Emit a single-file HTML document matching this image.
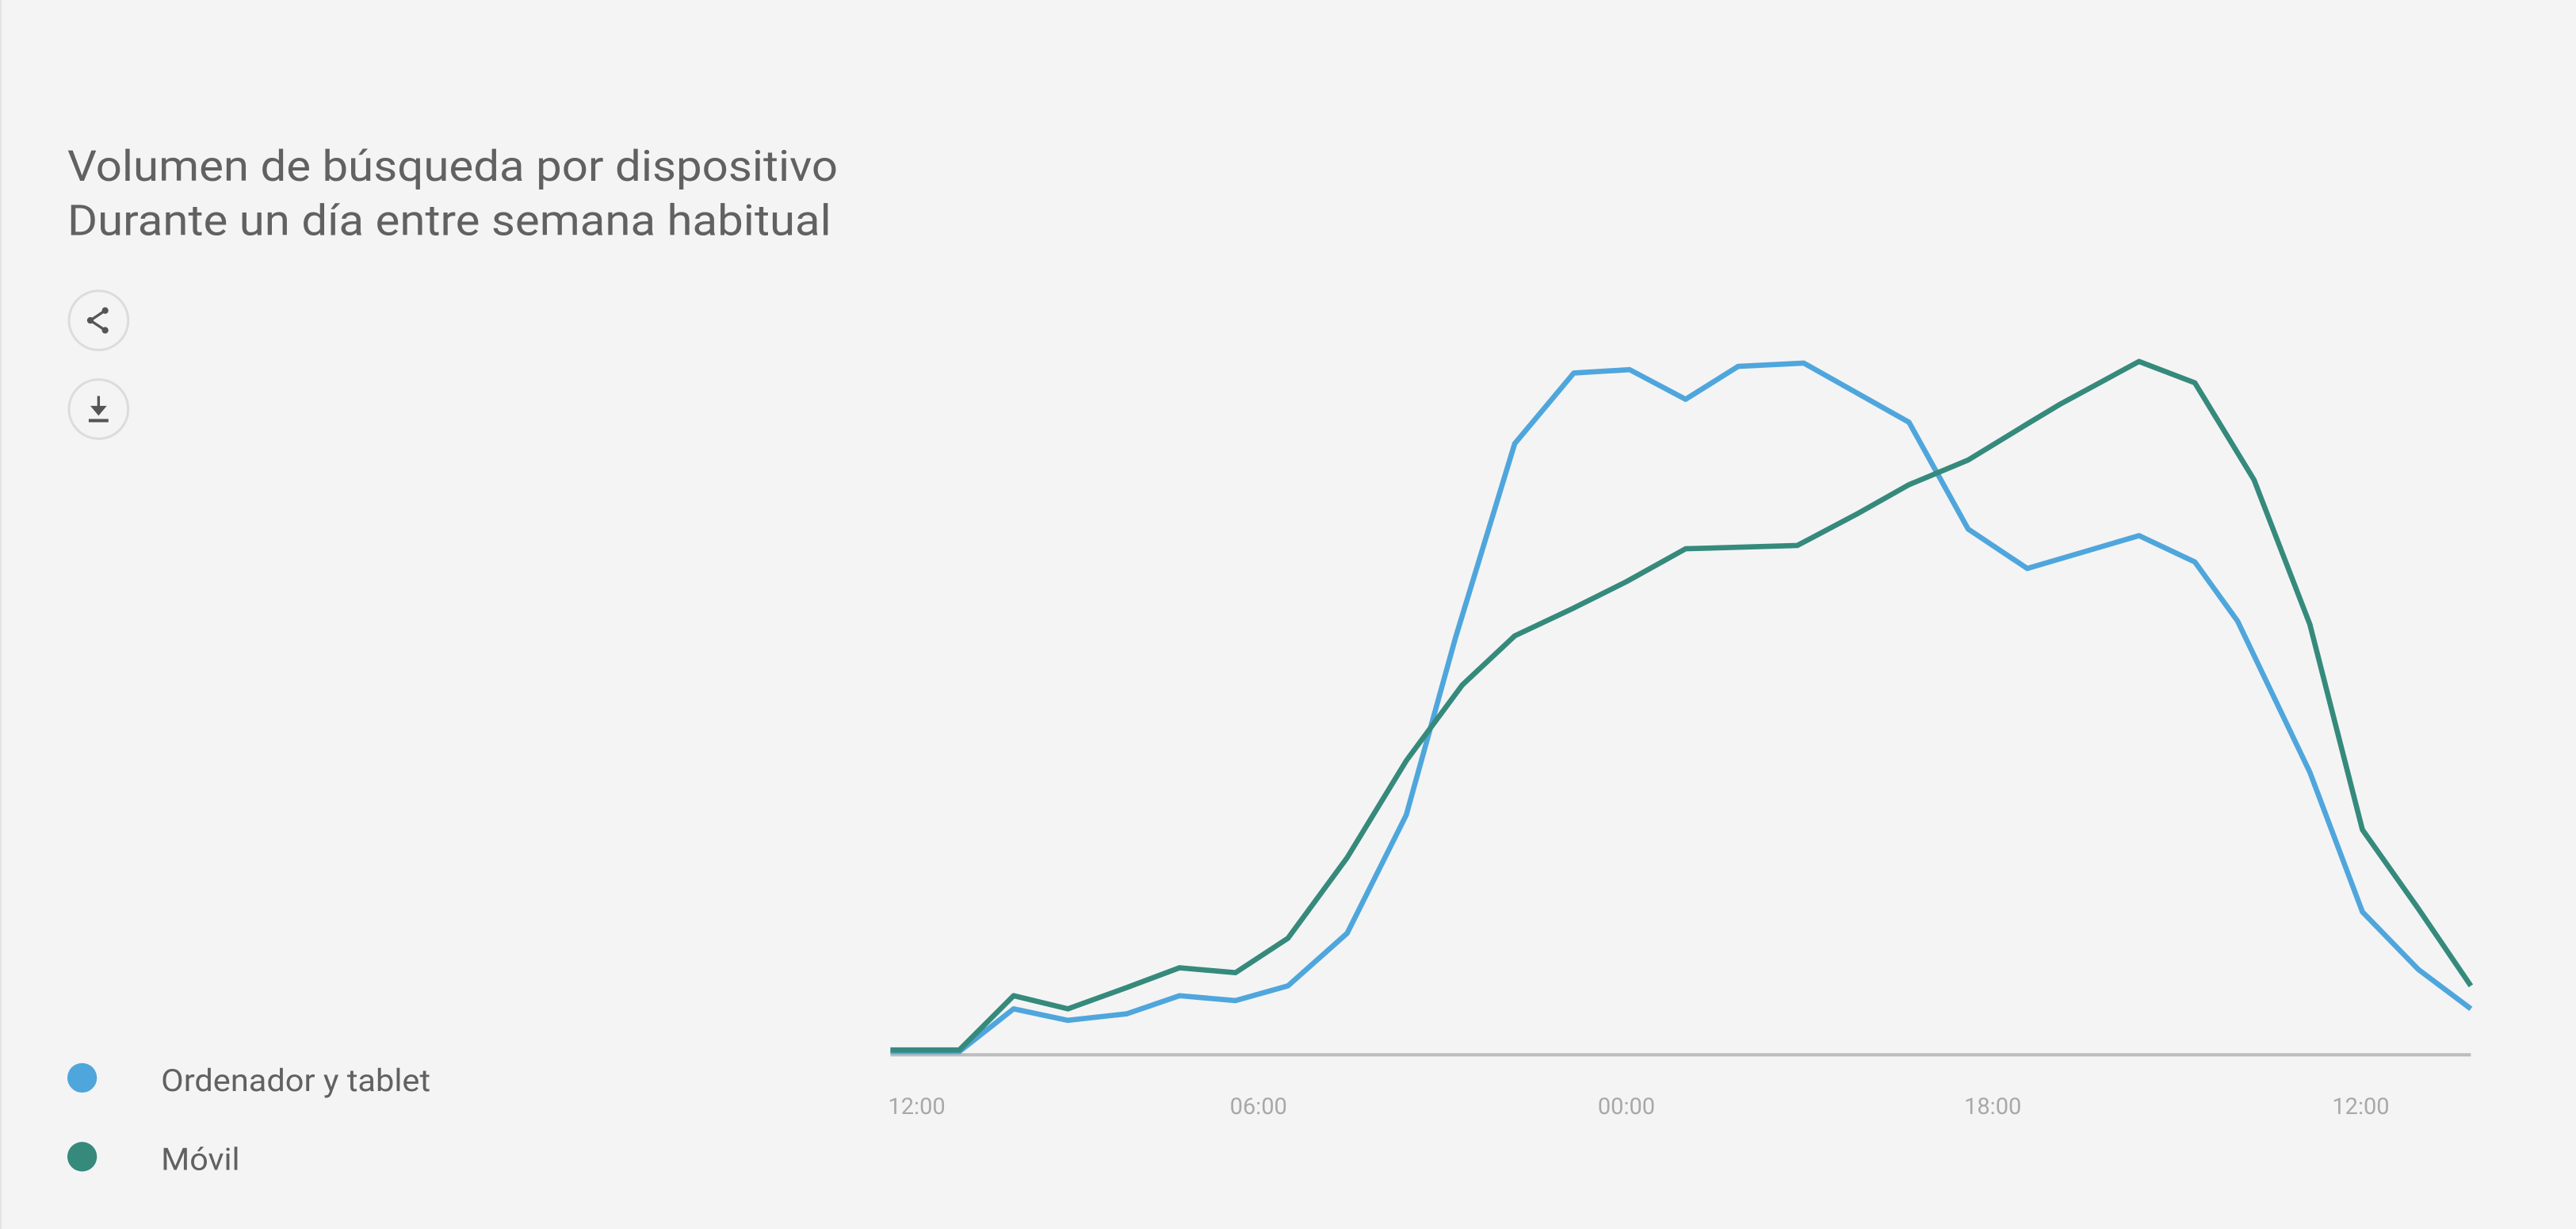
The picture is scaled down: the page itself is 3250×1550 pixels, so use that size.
<!DOCTYPE html>
<html><head><meta charset="utf-8"><style>
html,body{margin:0;padding:0;background:#f4f4f4;}
svg{display:block;}
</style></head><body>
<svg width="3250" height="1550" viewBox="0 0 1568 748" preserveAspectRatio="none" xmlns="http://www.w3.org/2000/svg">
<rect x="0" y="0" width="1568" height="748" fill="#f4f4f4"/>
<line x1="0.5" y1="0" x2="0.5" y2="748" stroke="#e4e4e4" stroke-width="1"/>
<g font-family="Roboto, 'Liberation Sans', sans-serif" fill="#616161">
<text x="41" y="110" font-size="26" textLength="469" lengthAdjust="spacingAndGlyphs">Volumen de búsqueda por dispositivo</text>
<text x="41" y="143" font-size="26" textLength="465" lengthAdjust="spacingAndGlyphs">Durante un día entre semana habitual</text>
</g>
<circle cx="60" cy="195" r="18" fill="#f4f4f4" stroke="#dcdcdc" stroke-width="1.5"/>
<circle cx="60" cy="249" r="18" fill="#f4f4f4" stroke="#dcdcdc" stroke-width="1.5"/>
<g stroke="#555" stroke-width="1.6" fill="#555">
<line x1="64" y1="189" x2="55" y2="195"/><line x1="55" y1="195" x2="64" y2="201"/>
<circle cx="64" cy="189" r="2" stroke="none"/><circle cx="55" cy="195" r="2" stroke="none"/><circle cx="64" cy="201" r="2" stroke="none"/>
<line x1="60" y1="241" x2="60" y2="249"/>
<path d="M55 247 L65 247 L60 253 Z" stroke="none"/>
<line x1="54" y1="256" x2="66" y2="256" stroke-width="2"/>
</g>
<line x1="542" y1="642" x2="1504" y2="642" stroke="#bdbdbd" stroke-width="2"/>
<g font-family="Roboto, 'Liberation Sans', sans-serif" font-size="14" fill="#a8a8a8" text-anchor="middle">
<text x="558" y="678">12:00</text><text x="766" y="678">06:00</text><text x="990" y="678">00:00</text><text x="1213" y="678">18:00</text><text x="1437" y="678">12:00</text>
</g>
<polyline fill="none" stroke="#4fa6dc" stroke-width="3.2" stroke-linejoin="round" points="542,640 584,640 617,614 650,621 686,617 718,606 752,609 784,600 820,568 856,496 886,388 922,270 958,227 992,225 1026,243 1058,223 1098,221 1130,239 1162,257 1198,322 1234,346 1268,336 1302,326 1336,342 1362,378 1406,470 1438,555 1472,590 1504,614"/>
<polyline fill="none" stroke="#358a7c" stroke-width="3.2" stroke-linejoin="round" points="542,639 584,639 617,606 650,614 686,601 718,589 752,592 784,571 820,522 856,463 890,417 922,387 958,370 990,354 1026,334 1094,332 1130,313 1162,295 1198,280 1234,258 1254,246 1302,220 1336,233 1372,292 1406,380 1438,505 1472,553 1504,600"/>
<circle cx="50" cy="656" r="9" fill="#4fa6dc"/>
<circle cx="50" cy="704" r="9" fill="#358a7c"/>
<g font-family="Roboto, 'Liberation Sans', sans-serif" font-size="19" fill="#616161">
<text x="98" y="664" textLength="164" lengthAdjust="spacingAndGlyphs">Ordenador y tablet</text>
<text x="98" y="712" textLength="48" lengthAdjust="spacingAndGlyphs">Móvil</text>
</g>
</svg>
</body></html>
